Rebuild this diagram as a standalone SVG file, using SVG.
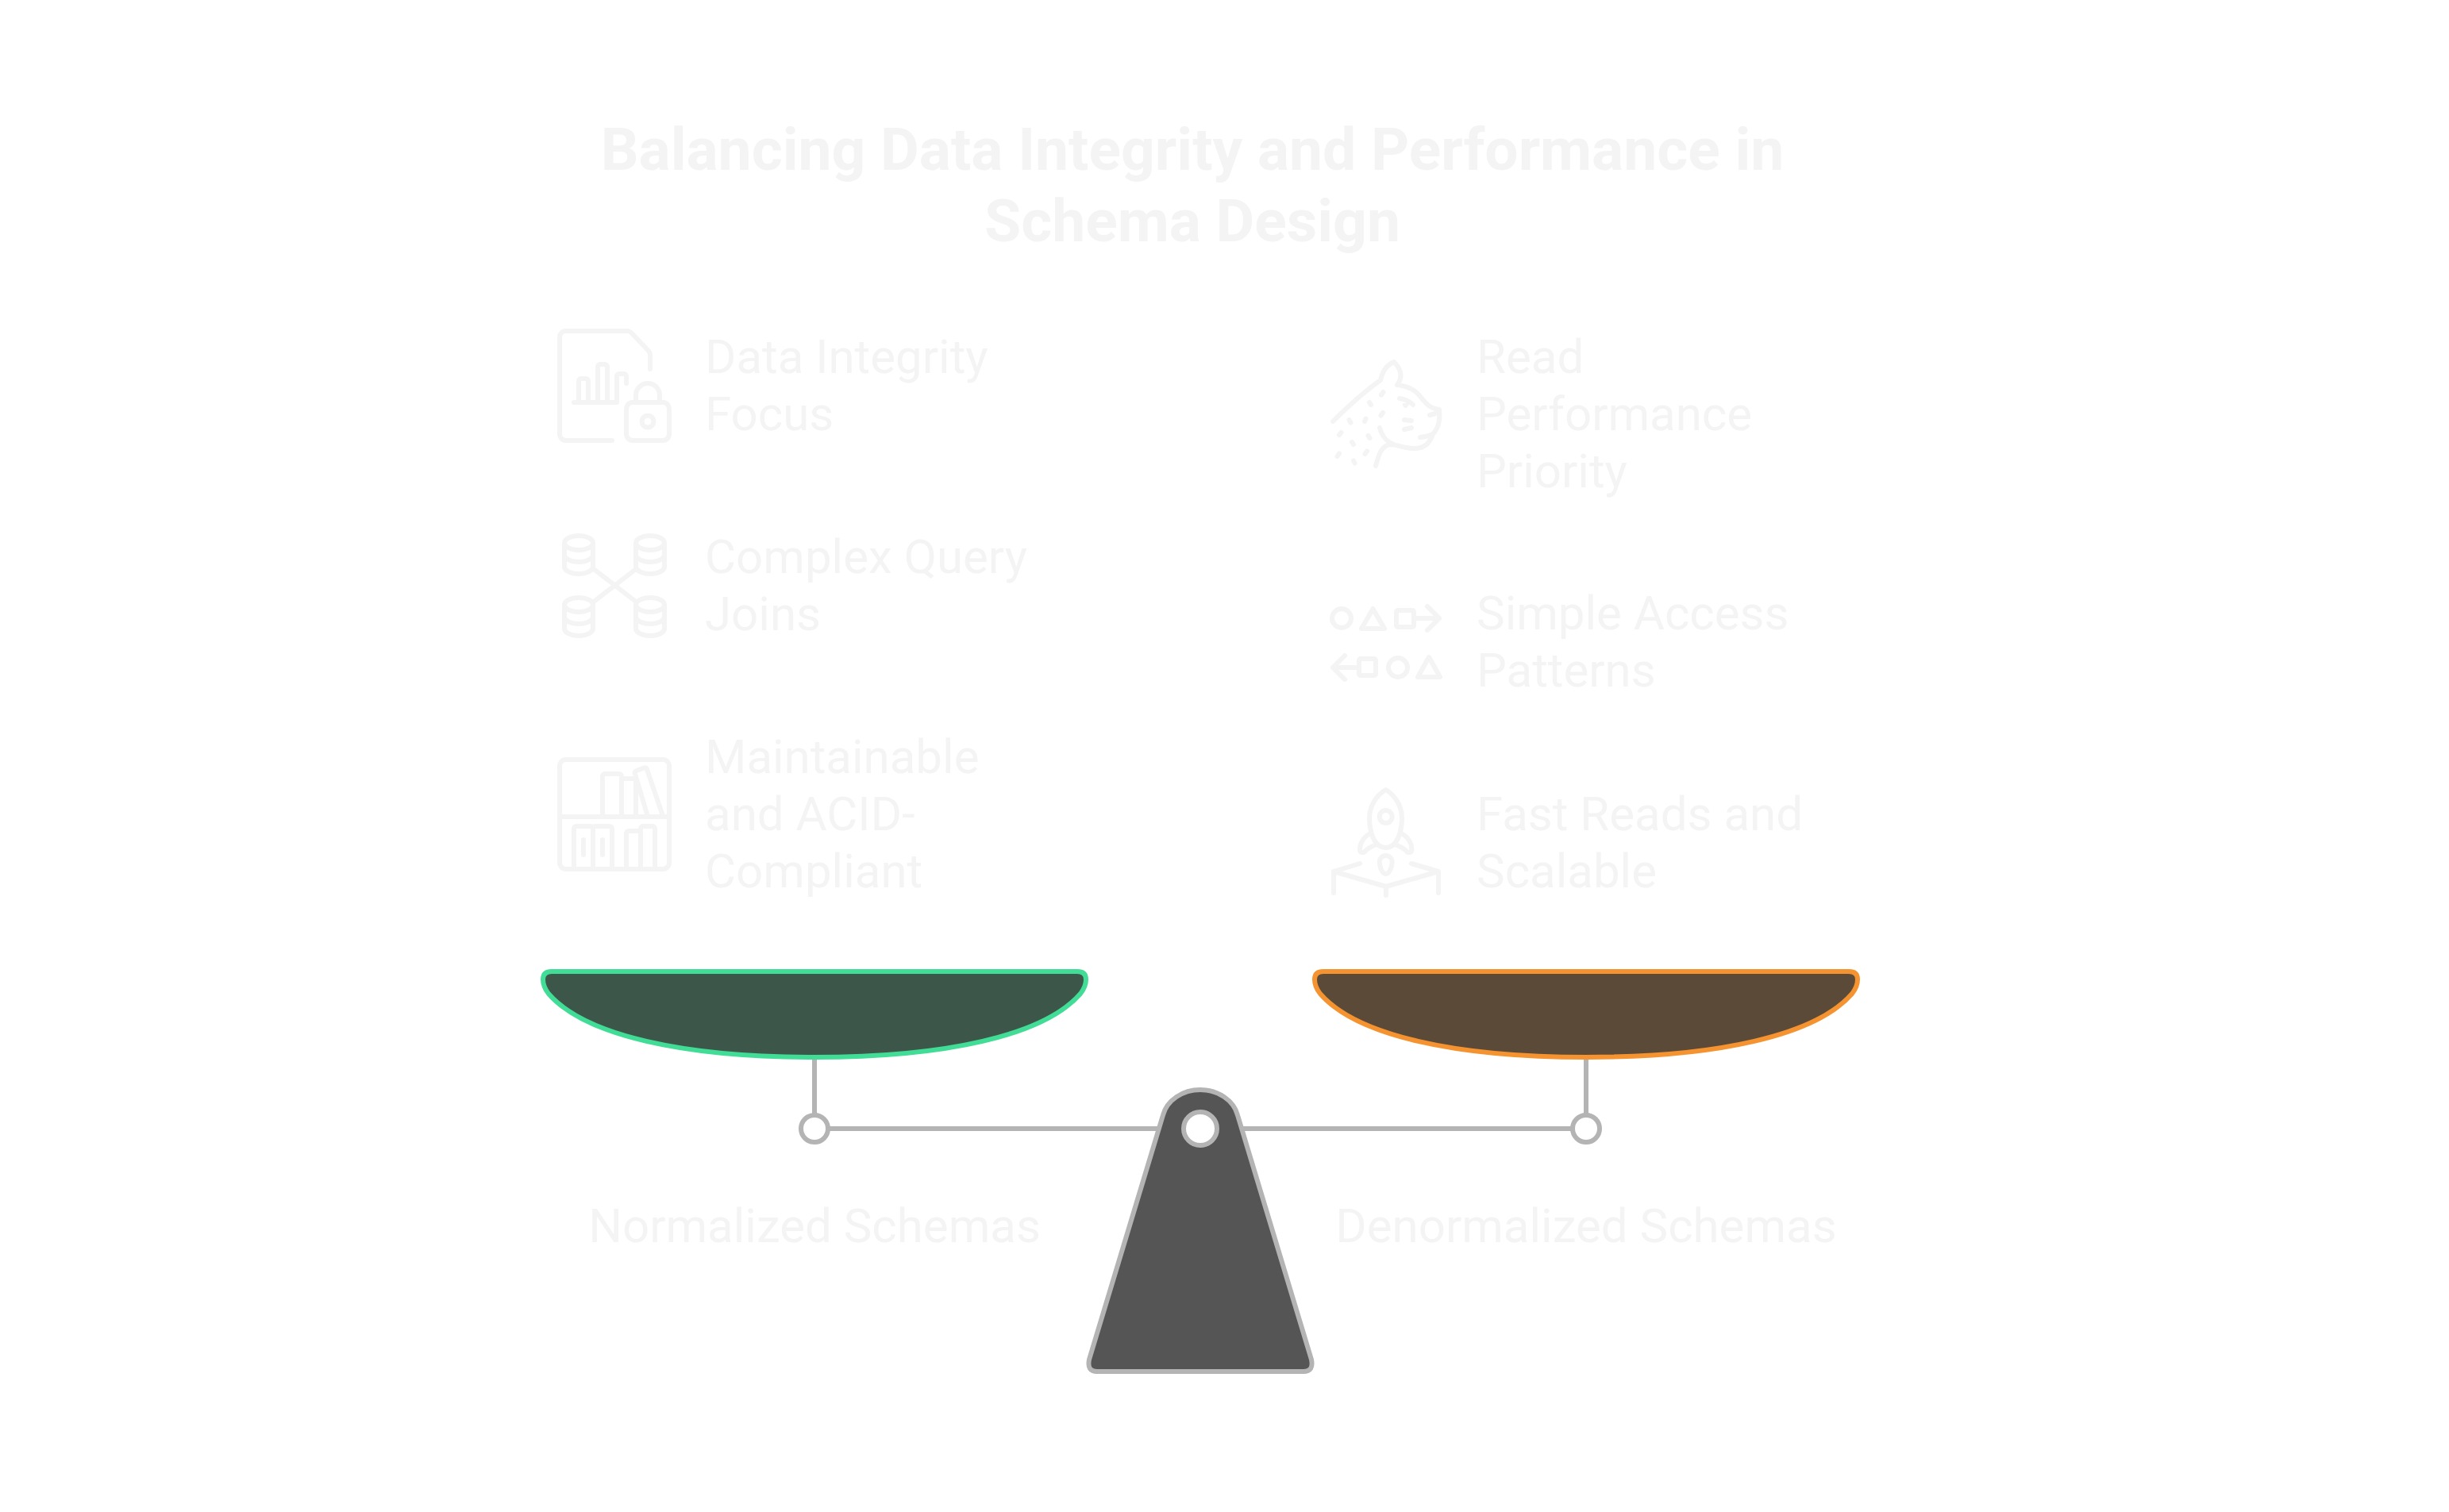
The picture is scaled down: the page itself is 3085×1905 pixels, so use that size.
<svg xmlns="http://www.w3.org/2000/svg" width="3085" height="1905" viewBox="0 0 3085 1905">
<style>
text{font-family:Roboto,"Liberation Sans",sans-serif;fill:#f4f4f4}
.t{font-size:60px}
.h{font-size:75px;font-weight:700;text-anchor:middle}
.m{text-anchor:middle}
.i{fill:none;stroke:#f4f4f4;stroke-width:6;stroke-linecap:round;stroke-linejoin:round}
.g{stroke:#b4b4b4;stroke-width:6;fill:none}
</style>
<defs>
<path id="db" d="M-18 0a18 9 0 1 1 36 0a18 9 0 1 1-36 0V30a18 9 0 0 0 36 0V0M-18 15a18 9 0 0 0 36 0"/>
</defs>
<rect width="3085" height="1905" fill="#fff"/>
<g id="title"><text class="h" x="1502" y="214">Balancing Data Integrity and Performance in</text><text class="h" x="1502" y="304">Schema Design</text></g>
<g id="connectors">
<path class="g" d="M1026 1332V1405M1043 1422H1470M1554 1422H1981M1998 1332V1405"/>
</g>
<g id="pan-left"><path d="M695 1224H1357Q1368 1224 1368 1234Q1368 1243 1361 1252C1315 1305 1190 1332 1026 1332C862 1332 737 1305 691 1252Q684 1243 684 1234Q684 1224 695 1224Z" fill="#3d564a" stroke="#41dc96" stroke-width="6"/><circle cx="1026" cy="1422" r="17" fill="#fff" stroke="#b4b4b4" stroke-width="6"/></g>
<g id="pan-right"><path d="M1667 1224H2329Q2340 1224 2340 1234Q2340 1243 2333 1252C2287 1305 2162 1332 1998 1332C1834 1332 1709 1305 1663 1252Q1656 1243 1656 1234Q1656 1224 1667 1224Z" fill="#5c4a38" stroke="#f59331" stroke-width="6"/><circle cx="1998" cy="1422" r="17" fill="#fff" stroke="#b4b4b4" stroke-width="6"/></g>
<g id="fulcrum"><path d="M1465 1405C1470 1386 1490 1373 1512 1373C1534 1373 1554 1386 1559 1405L1652 1713Q1655 1728 1642 1728H1382Q1369 1728 1372 1713Z" fill="#555" stroke="#b4b4b4" stroke-width="6"/><circle cx="1512" cy="1422" r="21" fill="#fff" stroke="#b4b4b4" stroke-width="6"/></g>
<g id="item-data-integrity">
<path class="i" d="M771 555H713a8 8 0 0 1-8-8V425a8 8 0 0 1 8-8H790q3 0 5 2L816 441q3 3 3 6V465"/>
<path class="i" d="M723 507H777V474a3 3 0 0 1 3-3h6a3 3 0 0 1 3 3V483M729 507V480a3 3 0 0 1 3-3h6a3 3 0 0 1 3 3V507M753 507V462a3 3 0 0 1 3-3h6a3 3 0 0 1 3 3V507"/>
<rect class="i" x="789" y="507" width="54" height="48" rx="8"/>
<path class="i" d="M801 507V498a15 15 0 0 1 30 0V507"/><circle class="i" cx="816" cy="531" r="7.5"/>
<text class="t" x="888" y="470">Data Integrity</text><text class="t" x="888" y="542">Focus</text>
</g>
<g id="item-complex-joins">
<use class="i" href="#db" x="729" y="684"/><use class="i" href="#db" x="819" y="684"/><use class="i" href="#db" x="729" y="762"/><use class="i" href="#db" x="819" y="762"/>
<path class="i" d="M748 717L801 758M801 717L748 758"/>
<text class="t" x="888" y="722">Complex Query</text><text class="t" x="888" y="794">Joins</text>
</g>
<g id="item-maintainable">
<rect class="i" x="705" y="957" width="138" height="138" rx="8"/>
<path class="i" d="M705 1029H843M759 1029V978a3 3 0 0 1 3-3h18a3 3 0 0 1 3 3V1029M783 981H801V1029M816 1029L800 975q-1-3 2-4L811 967.500q3-1 4 2L835 1028"/>
<path class="i" d="M723 1095V1044a3 3 0 0 1 3-3h18a3 3 0 0 1 3 3V1095M747 1044a3 3 0 0 1 3-3h18a3 3 0 0 1 3 3V1095M735 1058V1077M759 1058V1077M789 1095V1050a3 3 0 0 1 3-3h15V1095M807 1047V1044a3 3 0 0 1 3-3h12a3 3 0 0 1 3 3V1095"/>
<text class="t" x="888" y="974">Maintainable</text><text class="t" x="888" y="1046">and ACID-</text><text class="t" x="888" y="1118">Compliant</text>
</g>
<g id="item-read-performance">
<path class="i" d="M1679 531C1700 510 1722 491 1739 479C1742 466 1747 460 1756 456C1764 464 1768 474 1760 485C1772 486 1781 490 1788 498C1796 508 1800 514 1813 516C1814 528 1813 538 1805 547C1801 549 1796 550 1789 551M1805 547C1801 558 1795 565 1781 565C1770 565 1760 560 1751 560C1740 562 1737 572 1733 587M1738 539C1741 550 1746 556 1756 560M1801 523L1808 521M1763 502C1770 503 1776 506 1780 510M1769 529L1778 530M1769 541L1778 539"/>
<path d="M1767 508H1776L1772 514Q1766 514 1767 508Z" fill="#f4f4f4"/>
<path class="i" d="M1740 497.500l2.500-3.500M1725 507l2 3M1739.500 523.500l2.500-3.500M1699.500 529l2 3.500M1719 531l1.500-3.500M1687 548l2.500-3M1723.500 549l2 3M1703 557l2 3M1719.500 572l2.500-3.500M1684.500 575l2.500-3.500M1705 580.500l1.500 3"/>
<text class="t" x="1860" y="470">Read</text><text class="t" x="1860" y="542">Performance</text><text class="t" x="1860" y="614">Priority</text>
</g>
<g id="item-simple-access">
<circle class="i" cx="1690" cy="779" r="12"/><path class="i" d="M1729.500 767L1744 792H1715Z"/><rect class="i" x="1759" y="769" width="22" height="21" rx="2"/><path class="i" d="M1781 779H1813M1798 764L1813 779L1798 794"/>
<path class="i" d="M1712 841H1679M1694 826L1679 841L1694 856"/><rect class="i" x="1712" y="830" width="21" height="21" rx="2"/><circle class="i" cx="1761" cy="841" r="12"/><path class="i" d="M1800 828L1814 853H1786Z"/>
<text class="t" x="1860" y="793">Simple Access</text><text class="t" x="1860" y="865">Patterns</text>
</g>
<g id="item-fast-reads">
<path class="i" d="M1745.700 995C1735 1001 1725 1015 1725 1030C1725 1048 1731 1068 1745.700 1068C1760 1068 1766 1048 1766 1030C1766 1015 1756 1001 1745.700 995Z"/><circle class="i" cx="1745.700" cy="1029" r="8"/>
<path class="i" d="M1727 1050C1718 1053 1713 1063 1713 1070C1713 1075 1718 1075 1720 1072C1724 1068 1729 1066 1734 1064M1764.400 1050C1773.400 1053 1778.400 1063 1778.400 1070C1778.400 1075 1773.400 1075 1771.400 1072C1767.400 1068 1762.400 1066 1757.400 1064"/>
<path class="i" d="M1745.700 1078c-5 0-8 4-8 8c0 5 3 15 8 15c5 0 8-10 8-15c0-4-3-8-8-8Z"/>
<path class="i" d="M1680 1125V1098L1746 1117L1812 1098V1125M1746 1117V1128M1680 1098L1713 1088M1812 1098L1778 1088"/>
<text class="t" x="1860" y="1046">Fast Reads and</text><text class="t" x="1860" y="1118">Scalable</text>
</g>
<g id="label-normalized"><text class="t m" x="1026" y="1565">Normalized Schemas</text></g>
<g id="label-denormalized"><text class="t m" x="1998" y="1565">Denormalized Schemas</text></g>
</svg>
